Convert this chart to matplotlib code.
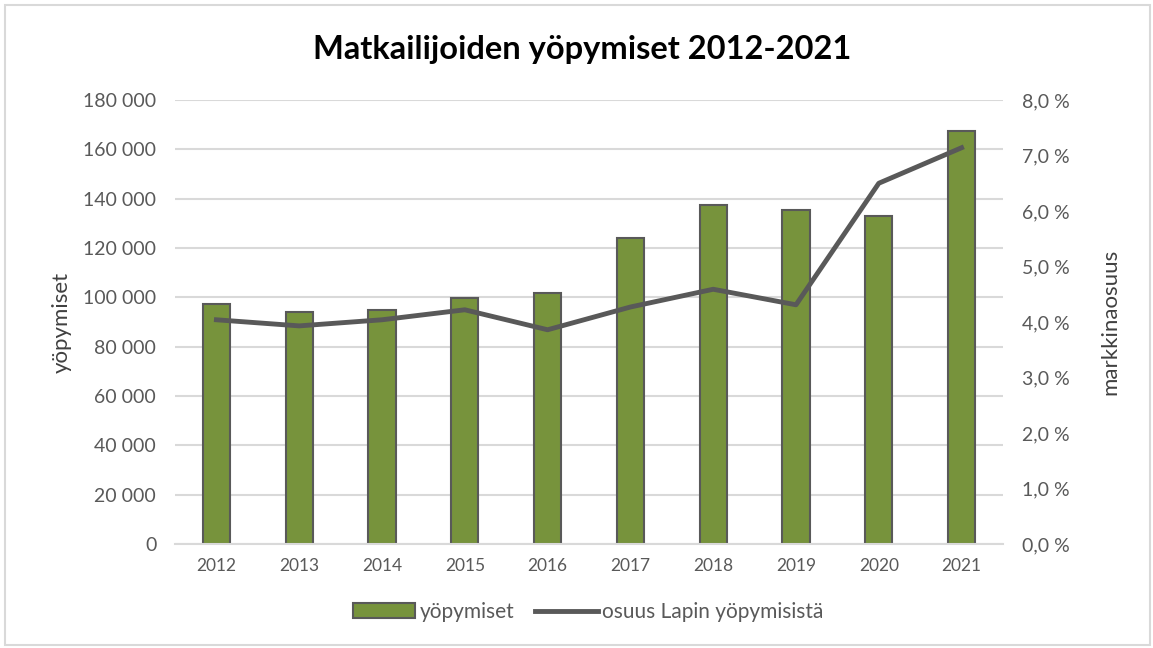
import matplotlib
matplotlib.use('Agg')
import matplotlib.pyplot as plt
from matplotlib.patches import Rectangle
from matplotlib.ticker import FuncFormatter, MultipleLocator

years = ['2012', '2013', '2014', '2015', '2016', '2017', '2018', '2019', '2020', '2021']
yopymiset = [97300, 94100, 94900, 99700, 101800, 124000, 137400, 135400, 133000, 167400]
osuus = [4.04, 3.93, 4.04, 4.22, 3.86, 4.27, 4.59, 4.31, 6.50, 7.14]

plt.rcParams['font.family'] = ['Lato', 'DejaVu Sans']

fig = plt.figure(figsize=(11.53, 6.48), dpi=100)
fig.patches.append(Rectangle((5 / 1153, 3 / 648), 1145 / 1153, 640 / 648,
                             transform=fig.transFigure, fill=False,
                             edgecolor='#d9d9d9', linewidth=1.5))

ax = fig.add_axes([175 / 1153, 1 - 544 / 648, 828 / 1153, 444 / 648])
ax2 = ax.twinx()

x = list(range(len(years)))
b = ax.bar(x, yopymiset, width=0.33, color='#77933C', edgecolor='#595959',
           linewidth=1.5, zorder=2, label='yöpymiset')
l, = ax2.plot(x, osuus, color='#595959', linewidth=3.5, zorder=3,
              label='osuus Lapin yöpymisistä')

ax.set_xlim(-0.5, len(years) - 0.5)
ax.set_ylim(0, 180000)
ax2.set_ylim(0, 8)
ax.yaxis.set_major_locator(MultipleLocator(20000))
ax2.yaxis.set_major_locator(MultipleLocator(1))
ax.yaxis.set_major_formatter(FuncFormatter(lambda v, p: f'{int(v):,}'.replace(',', ' ')))
ax2.yaxis.set_major_formatter(FuncFormatter(lambda v, p: f'{v:.1f} %'.replace('.', ',')))

ax.set_xticks(x)
ax.set_xticklabels(years)
ax.grid(axis='y', color='#d9d9d9', linewidth=1.5, zorder=0)
ax.set_axisbelow(True)

for a in (ax, ax2):
    for s in a.spines.values():
        s.set_visible(False)
    a.tick_params(length=0, colors='#595959')
ax.spines['bottom'].set_visible(True)
ax.spines['bottom'].set_color('#d9d9d9')
ax.spines['bottom'].set_linewidth(1.5)

ax.tick_params(axis='y', labelsize=14, pad=13.5)
ax2.tick_params(axis='y', labelsize=14, pad=14)
ax.tick_params(axis='x', labelsize=12.5, pad=10)

ax.set_ylabel('yöpymiset', fontsize=16, color='#404040', labelpad=8)
ax2.set_ylabel('markkinaosuus', fontsize=16, color='#404040', labelpad=22)

fig.text(0.505, 1 - 50 / 648, 'Matkailijoiden yöpymiset 2012-2021',
         ha='center', va='center', fontsize=23.5, fontweight='bold', color='black')

fig.legend(handles=[b, l], labels=['yöpymiset', 'osuus Lapin yöpymisistä'],
           loc='center', bbox_to_anchor=(0.51, 1 - 612 / 648), ncol=2,
           frameon=False, fontsize=15, handlelength=3.0, handletextpad=0.2,
           columnspacing=1.0, labelcolor='#595959')

fig.savefig('out.png', dpi=100)
